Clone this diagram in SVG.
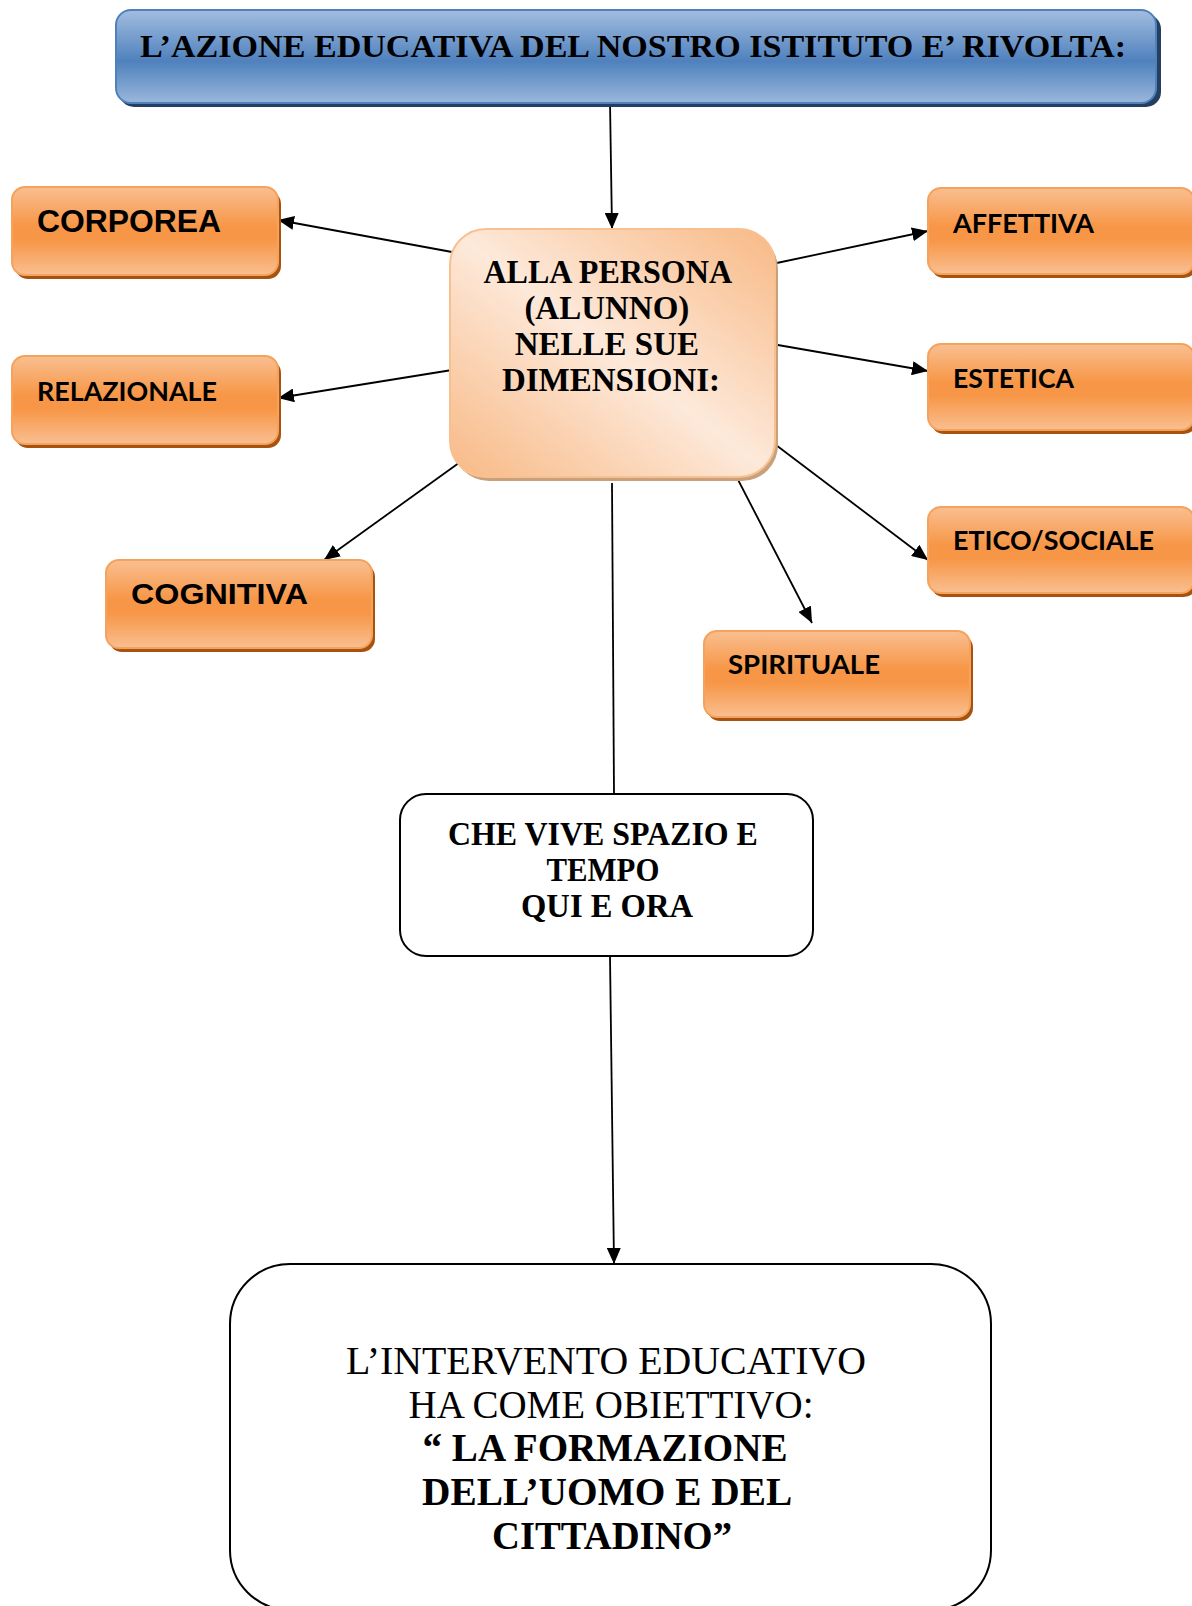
<svg xmlns="http://www.w3.org/2000/svg" width="1192" height="1606" viewBox="0 0 1192 1606">
<style>
.serif{font-family:"Liberation Serif","Times New Roman",serif;fill:#000}
.b{font-weight:bold}
.sans{font-family:"Liberation Sans",Arial,sans-serif;font-weight:bold;fill:#000}
.cal{font-family:"Lato","Open Sans","Liberation Sans",sans-serif;font-weight:bold;fill:#000}
.obox{fill:url(#og);stroke:#f5a25c;stroke-width:2}
.osh{fill:#a8520f}
.wbox{fill:#fff;stroke:#000;stroke-width:2}
.con{stroke:#000;stroke-width:1.8;fill:none}
.arr{marker-end:url(#ah)}
</style>
<defs>
<linearGradient id="og" x1="0" y1="0" x2="0" y2="1">
<stop offset="0" stop-color="#f9bf91"/>
<stop offset="0.45" stop-color="#f79646"/>
<stop offset="0.6" stop-color="#f79646"/>
<stop offset="1" stop-color="#f9bf91"/>
</linearGradient>
<linearGradient id="bg" x1="0" y1="0" x2="0" y2="1">
<stop offset="0" stop-color="#a3bde0"/>
<stop offset="0.55" stop-color="#4f81bd"/>
<stop offset="1" stop-color="#9ab7dc"/>
</linearGradient>
<linearGradient id="pg" x1="1" y1="0" x2="0" y2="1">
<stop offset="0" stop-color="#f8b985"/>
<stop offset="0.5" stop-color="#fde9da"/>
<stop offset="1" stop-color="#f8b985"/>
</linearGradient>
<marker id="ah" markerUnits="userSpaceOnUse" markerWidth="16" markerHeight="14" viewBox="0 0 16 14" refX="16" refY="7" orient="auto">
<path d="M0,0 L16,7 L0,14 z" fill="#000"/>
</marker>
</defs>

<g id="connectors">
<line class="con arr" x1="610" y1="102" x2="612" y2="229"/>
<line class="con arr" x1="452" y1="252" x2="278" y2="220"/>
<line class="con arr" x1="452" y1="370" x2="278" y2="398"/>
<line class="con arr" x1="772" y1="264" x2="928" y2="231"/>
<line class="con arr" x1="772" y1="344" x2="928" y2="371"/>
<line class="con arr" x1="772" y1="442" x2="928" y2="560"/>
<line class="con arr" x1="734" y1="472" x2="812" y2="623"/>
<line class="con arr" x1="463" y1="460" x2="324" y2="560"/>
<line class="con" x1="612" y1="483" x2="614" y2="794"/>
<line class="con arr" x1="610" y1="956" x2="614" y2="1264"/>
</g>

<g id="title">
<rect x="119" y="14" width="1042" height="93" rx="15" fill="#243f60"/>
<rect x="116" y="10" width="1040" height="93" rx="15" fill="url(#bg)" stroke="#4f81bd" stroke-width="2"/>
<text class="serif b" x="633" y="57" font-size="32" text-anchor="middle" textLength="986" lengthAdjust="spacingAndGlyphs">L’AZIONE EDUCATIVA DEL NOSTRO ISTITUTO E’ RIVOLTA:</text>
</g>

<g id="persona">
<rect x="453" y="233" width="325" height="248" rx="36" fill="#c9a07c"/>
<rect x="450" y="229" width="325" height="248" rx="36" fill="url(#pg)" stroke="#f9c08f" stroke-width="2"/>
<text class="serif b" font-size="33" text-anchor="middle">
<tspan x="611" y="283" textLength="247" lengthAdjust="spacingAndGlyphs">ALLA PERSONA</tspan>
<tspan x="611" y="319">(ALUNNO)</tspan>
<tspan x="611" y="355">NELLE SUE</tspan>
<tspan x="611" y="391">DIMENSIONI:</tspan>
</text>
</g>

<g id="corporea">
<rect class="osh" x="15" y="191" width="266" height="88" rx="13"/>
<rect class="obox" x="12" y="187" width="266" height="88" rx="13"/>
<text class="sans" x="37" y="232" font-size="32" textLength="184" lengthAdjust="spacingAndGlyphs">CORPOREA</text>
</g>

<g id="relazionale">
<rect class="osh" x="15" y="360" width="266" height="88" rx="13"/>
<rect class="obox" x="12" y="356" width="266" height="88" rx="13"/>
<text class="cal" x="37" y="401" font-size="27" textLength="180" lengthAdjust="spacingAndGlyphs">RELAZIONALE</text>
</g>

<g id="cognitiva">
<rect class="osh" x="109" y="564" width="266" height="88" rx="13"/>
<rect class="obox" x="106" y="560" width="266" height="88" rx="13"/>
<text class="sans" x="131" y="604" font-size="30" textLength="177" lengthAdjust="spacingAndGlyphs">COGNITIVA</text>
</g>

<g id="affettiva">
<rect class="osh" x="931" y="192" width="266" height="86" rx="13"/>
<rect class="obox" x="928" y="188" width="266" height="86" rx="13"/>
<text class="cal" x="953" y="233" font-size="26" textLength="141" lengthAdjust="spacingAndGlyphs">AFFETTIVA</text>
</g>

<g id="estetica">
<rect class="osh" x="931" y="348" width="266" height="86" rx="13"/>
<rect class="obox" x="928" y="344" width="266" height="86" rx="13"/>
<text class="cal" x="953" y="388" font-size="26" textLength="121" lengthAdjust="spacingAndGlyphs">ESTETICA</text>
</g>

<g id="etico">
<rect class="osh" x="931" y="511" width="266" height="86" rx="13"/>
<rect class="obox" x="928" y="507" width="266" height="86" rx="13"/>
<text class="cal" x="953" y="550" font-size="26" textLength="201" lengthAdjust="spacingAndGlyphs">ETICO/SOCIALE</text>
</g>

<g id="spirituale">
<rect class="osh" x="707" y="635" width="266" height="86" rx="13"/>
<rect class="obox" x="704" y="631" width="266" height="86" rx="13"/>
<text class="cal" x="728" y="674" font-size="26" textLength="152" lengthAdjust="spacingAndGlyphs">SPIRITUALE</text>
</g>

<g id="spazio">
<rect class="wbox" x="400" y="794" width="413" height="162" rx="26"/>
<text class="serif b" font-size="33" text-anchor="middle">
<tspan x="607" y="845" textLength="310" lengthAdjust="spacingAndGlyphs">CHE VIVE SPAZIO E</tspan>
<tspan x="607" y="881" textLength="113" lengthAdjust="spacingAndGlyphs">TEMPO</tspan>
<tspan x="607" y="917" textLength="172" lengthAdjust="spacingAndGlyphs">QUI E ORA</tspan>
</text>
</g>

<g id="obiettivo">
<rect class="wbox" x="230" y="1264" width="761" height="346" rx="60"/>
<text class="serif" font-size="40" text-anchor="middle">
<tspan x="611" y="1374" textLength="520" lengthAdjust="spacingAndGlyphs">L’INTERVENTO EDUCATIVO</tspan>
<tspan x="611" y="1418" textLength="405" lengthAdjust="spacingAndGlyphs">HA COME OBIETTIVO:</tspan>
</text>
<text class="serif b" font-size="40" text-anchor="middle">
<tspan x="610" y="1461" textLength="365" lengthAdjust="spacingAndGlyphs">“ LA FORMAZIONE</tspan>
<tspan x="611" y="1505" textLength="368" lengthAdjust="spacingAndGlyphs">DELL’UOMO E DEL</tspan>
<tspan x="612" y="1549" textLength="240" lengthAdjust="spacingAndGlyphs">CITTADINO”</tspan>
</text>
</g>
</svg>
